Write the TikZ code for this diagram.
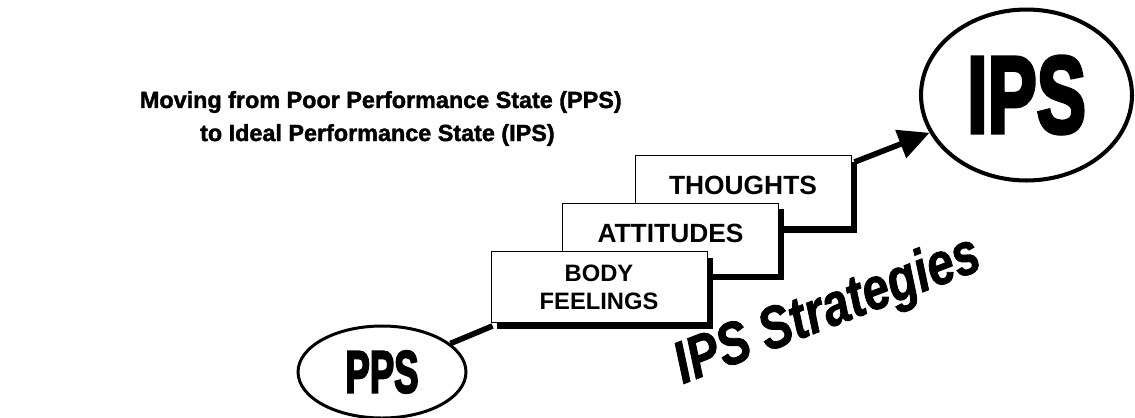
\documentclass[tikz,border=0pt]{standalone}
\usepackage{fontspec}
\setmainfont{Liberation Sans}
\newfontfamily\blackfont{Liberation Sans}[BoldFeatures={FakeBold=1.6}]
\newfontfamily\impactfont{Liberation Sans}[BoldFeatures={FakeBold=4}]
\newfontfamily\wordfont{Liberation Sans}[BoldItalicFeatures={FakeBold=1.5}]
\usetikzlibrary{shapes.geometric,shadows,arrows.meta}

\tikzset{
	stepbox/.style={draw=black, line width=0.5pt, fill=white, minimum width=4.32cm, minimum height=1.42cm, inner sep=0pt, align=center, font=\fontsize{15}{16}\selectfont\bfseries, drop shadow={opacity=1, fill=black, shadow xshift=0.12cm, shadow yshift=-0.12cm}},
	raisedtext/.style={text height=0.4cm, text depth=0.26cm},
	statering/.style={draw=black, ellipse, fill=white, inner sep=0pt},
	stair/.style={line width=3.2pt, black},
	titletext/.style={font=\fontsize{13.3}{16}\blackfont\bfseries, inner sep=0pt}
}

\begin{document}
\begin{tikzpicture}[x=0.02cm, y=-0.02cm]
			%%%%% START %%%%%
			\useasboundingbox (0, 0) rectangle (1135, 417);
			
			\node[titletext, anchor=east] (title1) at (622, 102) {Moving from Poor Performance State (PPS)};
			\node[titletext, anchor=east] (title2) at (555, 135) {to Ideal Performance State (IPS)};
			
			\node[stepbox, raisedtext] (thoughts) at (743, 191) {THOUGHTS};
			\node[stepbox, raisedtext] (attitudes) at (670.5, 238.5) {ATTITUDES};
			\node[stepbox, font=\fontsize{13.5}{16}\selectfont\bfseries] (body) at (599, 287) {BODY\\FEELINGS};
			
			\node[statering, line width=1.7pt, minimum width=3.36cm, minimum height=1.84cm] (pps) at (382, 372) {\fontsize{26}{26}\impactfont\bfseries\scalebox{0.8}[1.3]{PPS}};
			\node[statering, line width=2.3pt, minimum width=4.22cm, minimum height=3.42cm] (ips) at (1026.5, 95) {\fontsize{40}{40}\impactfont\bfseries\scalebox{1.05}[1.55]{IPS}};
			
			\coordinate (start) at ([xshift=0.06cm, yshift=-0.14cm]thoughts.north east);
			\draw[stair] (pps) -- ([xshift=0.04cm, yshift=-0.06cm]body.south west);
			\draw[stair, -{Triangle[length=0.62cm, width=0.58cm]}] (start) -- (ips);
			
			\node[rotate=21, font=\fontsize{26}{26}\wordfont\bfseries\itshape] (strategies) at (828, 312) {\scalebox{1.05}[1.3]{IPS Strategies}};
			
			%%%%% END %%%%%
\end{tikzpicture}
\end{document}
